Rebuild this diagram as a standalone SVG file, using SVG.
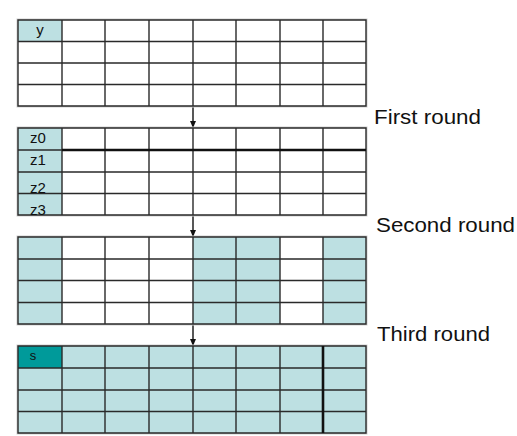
<svg xmlns="http://www.w3.org/2000/svg" width="517" height="436" viewBox="0 0 517 436">
<style>
.bg{fill:#ffffff}
.halo{fill:none;stroke:#d0d0d0;stroke-width:3}
.grid{fill:none;stroke:#2a2a2a;stroke-width:1.4}
.thick{fill:none;stroke:#111;stroke-width:2.6}
.lt{fill:#bde0e2}
.dk{fill:#009a9a}
.cell{font-family:"Liberation Sans",Arial,sans-serif;font-size:15px;fill:#111;text-anchor:middle}
.lbl{font-family:"Liberation Sans",Arial,sans-serif;font-size:21px;fill:#111}
.conn{stroke:#111;stroke-width:1.4;fill:none}
</style>
<defs>
<marker id="ah" markerWidth="7" markerHeight="6" refX="6" refY="3" orient="auto" markerUnits="userSpaceOnUse">
<path d="M0,0 L7,3 L0,6 Z" fill="#111"/>
</marker>
</defs>
<rect class="bg" x="0" y="0" width="517" height="436"/>
<g id="connectors">
<line class="conn" x1="193" y1="106" x2="193" y2="127" marker-end="url(#ah)"/>
<line class="conn" x1="193" y1="215" x2="193" y2="236" marker-end="url(#ah)"/>
<line class="conn" x1="193" y1="324" x2="193" y2="345" marker-end="url(#ah)"/>
</g>
<g id="grid-y">
<rect class="halo" x="18" y="20" width="348" height="86"/>
<rect class="bg" x="18" y="20" width="348" height="86"/>
<rect class="lt" x="18" y="20" width="44" height="21.5"/>
<path class="grid" d="M18,20H366V106H18Z M18,41.5H366 M18,63H366 M18,84.5H366 M62,20V106 M105,20V106 M149,20V106 M193,20V106 M236,20V106 M280,20V106 M323,20V106"/>
<text class="cell" x="40" y="35">y</text>
</g>
<g id="grid-z">
<rect class="halo" x="18" y="128" width="348" height="87"/>
<rect class="bg" x="18" y="128" width="348" height="87"/>
<rect class="lt" x="18" y="128" width="44" height="87"/>
<path class="grid" d="M18,128H366V215H18Z M18,172H366 M18,193.5H366 M62,128V215 M105,128V215 M149,128V215 M193,128V215 M236,128V215 M280,128V215 M323,128V215"/>
<path class="thick" d="M62,150H366"/>
<path class="grid" d="M18,150H62"/>
<text class="cell" x="38" y="143">z0</text>
<text class="cell" x="38" y="165">z1</text>
<text class="cell" x="38" y="193">z2</text>
<text class="cell" x="38" y="215">z3</text>
</g>
<g id="grid-second">
<rect class="halo" x="18" y="237" width="348" height="87"/>
<rect class="bg" x="18" y="237" width="348" height="87"/>
<rect class="lt" x="18" y="237" width="44" height="87"/>
<rect class="lt" x="193" y="237" width="87" height="87"/>
<rect class="lt" x="323" y="237" width="43" height="87"/>
<path class="grid" d="M18,237H366V324H18Z M18,259H366 M18,280.5H366 M18,302.5H366 M62,237V324 M105,237V324 M149,237V324 M193,237V324 M236,237V324 M280,237V324 M323,237V324"/>
</g>
<g id="grid-third">
<rect class="halo" x="18" y="346" width="348" height="87"/>
<rect class="lt" x="18" y="346" width="348" height="87"/>
<rect class="dk" x="18" y="346" width="44" height="22"/>
<path class="grid" d="M18,346H366V433H18Z M18,368H366 M18,390H366 M18,411.5H366 M62,346V433 M105,346V433 M149,346V433 M193,346V433 M236,346V433 M280,346V433"/>
<path class="thick" d="M323,346V433"/>
<text class="cell" x="33" y="360" style="font-size:13px">s</text>
</g>
<g id="labels">
<text class="lbl" x="374" y="124" textLength="107" lengthAdjust="spacingAndGlyphs">First round</text>
<text class="lbl" x="376" y="232" textLength="139" lengthAdjust="spacingAndGlyphs">Second round</text>
<text class="lbl" x="377" y="341" textLength="113" lengthAdjust="spacingAndGlyphs">Third round</text>
</g>
</svg>
